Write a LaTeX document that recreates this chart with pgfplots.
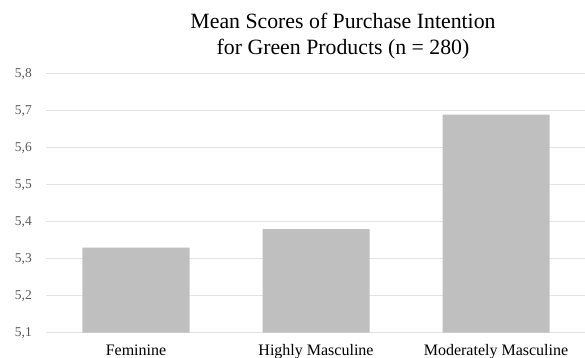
\documentclass[border=0pt]{standalone}
\usepackage{pgfplots}
\pgfplotsset{compat=1.18}
\usepackage{fontspec}
\setmainfont{Liberation Serif}

\definecolor{barfill}{HTML}{BFBFBF}
\definecolor{gridcol}{HTML}{E3E3E3}
\definecolor{ticktext}{HTML}{595959}

\begin{document}
\begin{tikzpicture}
  % fixed frame: the plot area sits 46bp from the left and 25.3bp above the bottom
  \useasboundingbox (-46bp,-25.3bp) rectangle (539bp,332.7bp);
  \begin{axis}[
    at={(0,0)}, anchor=south west,
    scale only axis,
    width=540bp, height=258.7bp,
    xmin=-0.5, xmax=2.5,
    ymin=5.1, ymax=5.8,
    ytick={5.1,5.2,5.3,5.4,5.5,5.6,5.7,5.8},
    xtick=data,
    xticklabels={Feminine, Highly Masculine, Moderately Masculine},
    axis line style={draw=none},
    major tick length=0pt,
    ymajorgrids,
    major grid style={draw=gridcol, line width=1bp},
    /pgf/number format/assume math mode=true,
    yticklabel style={
      /pgf/number format/.cd, fixed, fixed zerofill, precision=1, use comma,
      /tikz/.cd, font=\fontsize{13.5bp}{15bp}\selectfont, text=ticktext,
      anchor=east, inner sep=0pt, xshift=-14bp},
    xticklabel style={
      font=\fontsize{16bp}{18bp}\selectfont, text=black,
      anchor=base, inner sep=0pt, yshift=-22.3bp},
    ybar, bar width=107bp,
  ]
    \addplot[fill=barfill, draw=none] coordinates {(0,5.33) (1,5.38) (2,5.69)};
  \end{axis}
  % chart title, two centred lines
  \node[anchor=base, inner sep=0pt, font=\fontsize{21.8bp}{26bp}\selectfont]
    at (297bp,303.7bp) {Mean Scores of Purchase Intention};
  \node[anchor=base, inner sep=0pt, font=\fontsize{21.8bp}{26bp}\selectfont]
    at (297bp,277.7bp) {for Green Products (n = 280)};
\end{tikzpicture}
\end{document}
